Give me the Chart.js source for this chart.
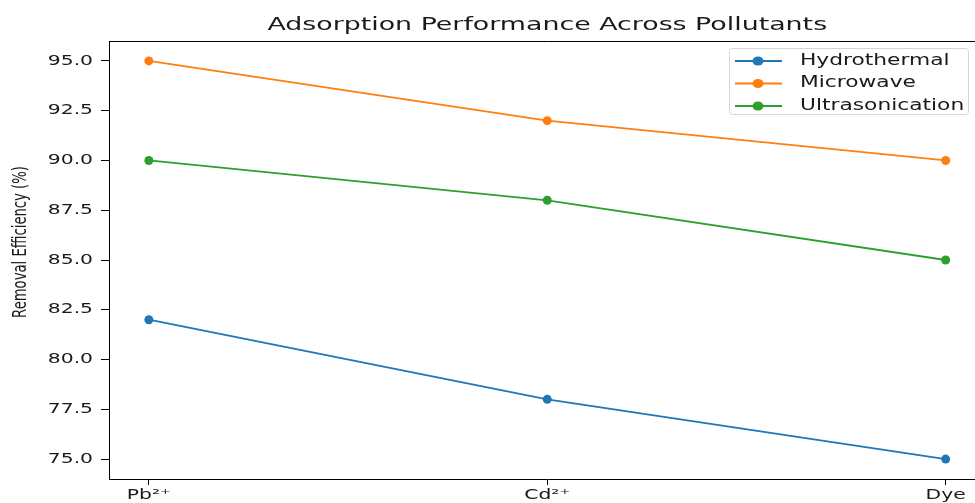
<!DOCTYPE html>
<html>
<head>
<meta charset="utf-8">
<script src="https://cdn.jsdelivr.net/npm/chart.js@4.4.1/dist/chart.umd.min.js"></script>
<style>
  html, body { margin: 0; padding: 0; background: #fff; overflow: hidden; }
  #wrap { width: 990px; height: 503px; }
</style>
</head>
<body>
<div id="wrap"><canvas id="myChart"></canvas></div>
<script>
const categories = ["Pb²⁺", "Cd²⁺", "Dye"];
const seriesNames = ["Hydrothermal", "Microwave", "Ultrasonication"];
const hydrothermal = [82, 78, 75];
const microwave = [95, 92, 90];
const ultrasonication = [90, 88, 85];
const yTicks = [75.0, 77.5, 80.0, 82.5, 85.0, 87.5, 90.0, 92.5, 95.0];
const colors = ["#1f77b4", "#ff7f0e", "#2ca02c"];

const SX = 1.45; // the picture is stretched sideways
const textColor = "#1a1a1a";

function stretchText(ctx, text, x, y, size, align, baseline, rotate) {
  ctx.save();
  ctx.translate(x, y);
  ctx.scale(SX, 1);
  if (rotate) ctx.rotate(-Math.PI / 2);
  ctx.font = size + "px 'DejaVu Sans'";
  ctx.textAlign = align;
  ctx.textBaseline = baseline;
  ctx.fillStyle = textColor;
  ctx.fillText(text, 0, 0);
  ctx.restore();
}

// frame, tick labels, title, axis label, legend
const decor = {
  id: "decor",
  afterDraw(chart) {
    const ctx = chart.ctx;
    const area = chart.chartArea;
    const xs = chart.scales.x;
    const ys = chart.scales.y;

    ctx.save();
    ctx.strokeStyle = "#000";
    ctx.lineWidth = 1;
    ctx.beginPath();
    ctx.moveTo(area.left, area.top + 0.5);
    ctx.lineTo(area.right, area.top + 0.5);
    ctx.lineTo(area.right, area.bottom);
    ctx.stroke();
    ctx.restore();

    categories.forEach(function (c, i) {
      stretchText(ctx, c, xs.getPixelForValue(i), area.bottom + 9, 14, "center", "top");
    });
    yTicks.forEach(function (v) {
      stretchText(ctx, v.toFixed(1), area.left - 16, ys.getPixelForValue(v), 14, "right", "middle");
    });

    stretchText(ctx, "Adsorption Performance Across Pollutants", (area.left + area.right) / 2, 25, 18.5, "center", "middle");
    stretchText(ctx, "Removal Efficiency (%)", 21, 242, 13.2, "center", "middle", true);

    // legend box
    const bx = 729, by = 48, bw = 239, bh = 66;
    ctx.save();
    ctx.fillStyle = "rgba(255,255,255,0.8)";
    ctx.strokeStyle = "#d6d6d6";
    ctx.lineWidth = 1;
    ctx.beginPath();
    ctx.roundRect(bx + 0.5, by + 0.5, bw, bh, 3);
    ctx.fill();
    ctx.stroke();
    ctx.restore();

    chart.data.datasets.forEach(function (ds, i) {
      const ry = 61 + i * 22.5;
      ctx.save();
      ctx.strokeStyle = ds.borderColor;
      ctx.lineWidth = 1.8;
      ctx.beginPath();
      ctx.moveTo(735, ry);
      ctx.lineTo(782, ry);
      ctx.stroke();
      ctx.fillStyle = ds.backgroundColor;
      ctx.beginPath();
      ctx.ellipse(758, ry, 5.5, 4.5, 0, 0, Math.PI * 2);
      ctx.fill();
      ctx.restore();
      stretchText(ctx, ds.label, 800, ry, 15, "left", "middle");
    });
  }
};

function makeSeries(values) {
  return values.map(function (v, i) { return { x: i, y: v }; });
}

const ctx = document.getElementById("myChart").getContext("2d");
new Chart(ctx, {
  type: "line",
  data: {
    datasets: [hydrothermal, microwave, ultrasonication].map(function (vals, i) {
      return {
        label: seriesNames[i],
        data: makeSeries(vals),
        borderColor: colors[i],
        backgroundColor: colors[i],
        borderWidth: 1.8,
        pointRadius: 4.5,
        pointBorderWidth: 0,
        pointHoverRadius: 4.5,
        tension: 0,
      };
    }),
  },
  options: {
    responsive: true,
    maintainAspectRatio: false,
    animation: false,
    layout: { padding: { top: 41, right: 3, bottom: 0, left: 0 } },
    scales: {
      x: {
        type: "linear",
        min: -0.1,
        max: 2.1,
        afterBuildTicks: function (scale) {
          scale.ticks = categories.map(function (c, i) { return { value: i }; });
        },
        afterFit: function (scale) { scale.height = 24; },
        ticks: { display: false },
        grid: { drawOnChartArea: false, drawTicks: true, tickLength: 6, color: "#000" },
        border: { display: true, color: "#000", width: 1 },
      },
      y: {
        min: 74,
        max: 96,
        afterBuildTicks: function (scale) {
          scale.ticks = yTicks.map(function (v) { return { value: v }; });
        },
        afterFit: function (scale) { scale.width = 109; },
        ticks: { display: false },
        grid: { drawOnChartArea: false, drawTicks: true, tickLength: 8, color: "#000" },
        border: { display: true, color: "#000", width: 1 },
      },
    },
    plugins: {
      legend: { display: false },
      title: { display: false },
      tooltip: { enabled: false },
    },
  },
  plugins: [decor],
});
</script>
</body>
</html>
